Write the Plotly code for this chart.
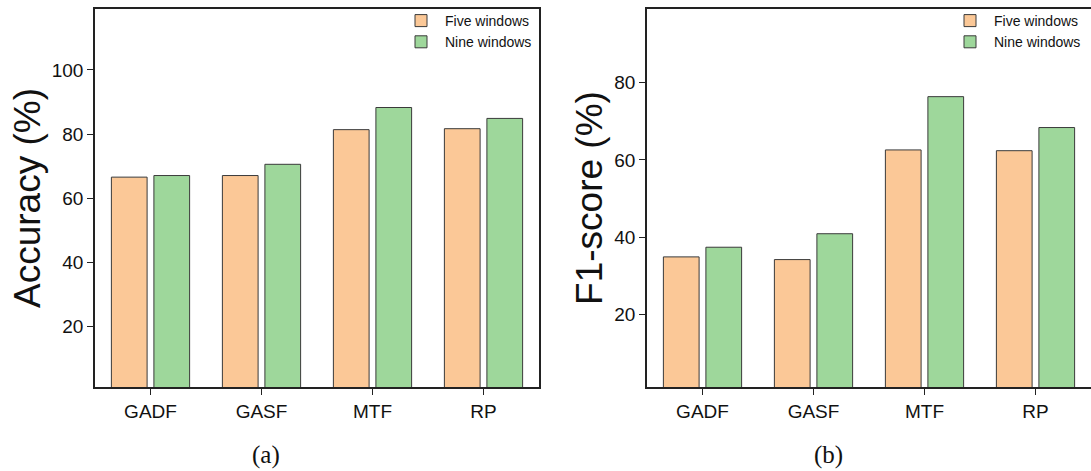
import plotly.graph_objects as go

categories = ["GADF", "GASF", "MTF", "RP"]
acc_five = [66.6, 67.1, 81.4, 81.7]
acc_nine = [67.1, 70.6, 88.3, 84.9]
f1_five = [34.9, 34.2, 62.6, 62.4]
f1_nine = [37.4, 40.9, 76.4, 68.4]
series_names = ["Five windows", "Nine windows"]
acc_ticks = [20, 40, 60, 80, 100]
f1_ticks = [20, 40, 60, 80]

ORANGE = "#FBC897"
GREEN = "#9ED79B"
EDGE = "#3a3a3a"
FONT = "Arial, Liberation Sans, sans-serif"
SERIF = "Times New Roman, Liberation Serif, serif"

W, H = 1091, 471
fig = go.Figure()

for vals, name, color in [(acc_five, series_names[0], ORANGE), (acc_nine, series_names[1], GREEN)]:
    fig.add_trace(go.Bar(x=categories, y=vals, name=name, marker=dict(color=color, line=dict(color=EDGE, width=1)),
                         xaxis="x", yaxis="y", legend="legend"))
for vals, name, color in [(f1_five, series_names[0], ORANGE), (f1_nine, series_names[1], GREEN)]:
    fig.add_trace(go.Bar(x=categories, y=vals, name=name, marker=dict(color=color, line=dict(color=EDGE, width=1)),
                         xaxis="x2", yaxis="y2", legend="legend2"))

y0 = 1 - 387 / H
y1 = 1 - 9 / H
axis_common = dict(showline=True, linecolor="#222", linewidth=1.5, ticks="outside", ticklen=6,
                   tickwidth=1, tickcolor="#222", showgrid=False, zeroline=False,
                   tickfont=dict(family=FONT, size=19, color="#111"))

fig.update_layout(
    width=W, height=H,
    margin=dict(l=0, r=0, t=0, b=0),
    paper_bgcolor="white", plot_bgcolor="white",
    barmode="group", bargap=0.234, bargroupgap=0.16,
    font=dict(family=FONT, color="#111"),
    xaxis=dict(domain=[95 / W, 539 / W], anchor="y", mirror=True, range=[-0.5, 3.5], **axis_common),
    yaxis=dict(domain=[y0, y1], anchor="x", mirror=True, range=[1.2, 119], tickvals=acc_ticks,
               title=dict(text="Accuracy (%)", font=dict(family=FONT, size=37, color="#111"), standoff=0),
               **axis_common),
    xaxis2=dict(domain=[647 / W, 1.0], anchor="y2", mirror=True, range=[-0.5, 3.5], **axis_common),
    yaxis2=dict(domain=[y0, y1], anchor="x2", mirror=False, range=[1.2, 99.1], tickvals=f1_ticks,
                title=dict(text="F1-score (%)", font=dict(family=FONT, size=37, color="#111"), standoff=0),
                **axis_common),
    legend=dict(x=397 / W, y=1 - 5 / H, xanchor="left", yanchor="top", bgcolor="rgba(0,0,0,0)",
                font=dict(family=FONT, size=14, color="#111"), tracegroupgap=0, itemwidth=38),
    legend2=dict(x=946 / W, y=1 - 5 / H, xanchor="left", yanchor="top", bgcolor="rgba(0,0,0,0)",
                 font=dict(family=FONT, size=14, color="#111"), tracegroupgap=0, itemwidth=38),
    annotations=[
        dict(text="(a)", x=266 / W, y=1 - 455 / H, xref="paper", yref="paper", showarrow=False,
             xanchor="center", yanchor="middle",
             font=dict(family=SERIF, size=25, color="#111")),
        dict(text="(b)", x=828 / W, y=1 - 455 / H, xref="paper", yref="paper", showarrow=False,
             xanchor="center", yanchor="middle",
             font=dict(family=SERIF, size=25, color="#111")),
    ],
)
fig.update_yaxes(automargin=False)
fig.update_xaxes(automargin=False)

fig.write_html("out.html", config={"displayModeBar": False},
               post_script="document.body.style.margin='0';document.body.style.padding='0';")
